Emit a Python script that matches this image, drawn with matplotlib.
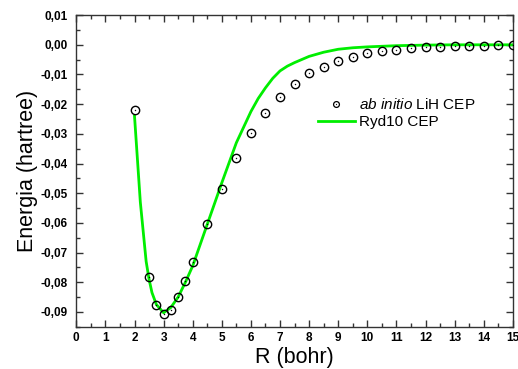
import matplotlib
matplotlib.use("Agg")
import matplotlib.pyplot as plt
from matplotlib.lines import Line2D
from matplotlib.ticker import MultipleLocator, FuncFormatter

plt.rcParams['font.family'] = ['Liberation Sans', 'DejaVu Sans']
plt.rcParams['mathtext.fontset'] = 'custom'
plt.rcParams['mathtext.rm'] = 'Liberation Sans'
plt.rcParams['mathtext.it'] = 'Liberation Sans:italic'

# ab initio LiH CEP points
r_ab = [2.0, 2.5, 2.75, 3.0, 3.25, 3.5, 3.75, 4.0, 4.5, 5.0, 5.5, 6.0, 6.5, 7.0,
        7.5, 8.0, 8.5, 9.0, 9.5, 10.0, 10.5, 11.0, 11.5, 12.0, 12.5, 13.0,
        13.5, 14.0, 14.5, 15.0]
e_ab = [-0.0219, -0.0782, -0.0878, -0.0906, -0.0892, -0.0850, -0.0796, -0.0733,
        -0.0603, -0.0485, -0.0383, -0.0298, -0.0229, -0.0175, -0.0132, -0.0096,
        -0.0074, -0.0054, -0.0040, -0.0029, -0.0021, -0.0016, -0.0012, -0.0009,
        -0.0007, -0.0005, -0.0004, -0.0003, -0.0002, -0.0001]

# Ryd10 CEP curve
r_ryd = [2.0, 2.2, 2.4, 2.5, 2.6, 2.75, 3.0, 3.25, 3.5, 3.75, 4.0, 4.5, 5.0,
         5.5, 6.0, 6.25, 6.5, 6.75, 7.0, 7.25, 7.5, 8.0, 8.5, 9.0, 9.5, 10.0,
         11.0, 12.0, 13.0, 14.0, 15.0]
e_ryd = [-0.0240, -0.0530, -0.0730, -0.0790, -0.0835, -0.0875, -0.0903, -0.0885,
         -0.0850, -0.0800, -0.0745, -0.0605, -0.0465, -0.0330, -0.0225, -0.0181,
         -0.0145, -0.0113, -0.0088, -0.0072, -0.0060, -0.0039, -0.0025, -0.0015,
         -0.0010, -0.0007, -0.0003, -0.0001, 0.0, 0.0, 0.0]

fig = plt.figure(figsize=(5.18, 3.69), dpi=100)
ax = fig.add_axes([0.1473, 0.1146, 0.990 - 0.1473, 0.959 - 0.1146])

ax.plot(r_ryd, e_ryd, color='#00ee00', lw=2.0, zorder=2)
ax.plot(r_ab, e_ab, linestyle='none', marker='o', markersize=6,
        markerfacecolor='none', markeredgecolor='black', markeredgewidth=1.0, zorder=3)
ax.plot(r_ab, e_ab, linestyle='none', marker='o', markersize=0.8,
        markerfacecolor='black', markeredgecolor='black', markeredgewidth=0.2, zorder=4)

ax.set_xlim(0, 15)
ax.set_ylim(-0.095, 0.01)

ax.xaxis.set_major_locator(MultipleLocator(1))
ax.xaxis.set_minor_locator(MultipleLocator(0.5))
ax.yaxis.set_major_locator(MultipleLocator(0.01))
ax.yaxis.set_minor_locator(MultipleLocator(0.005))

ax.xaxis.set_major_formatter(FuncFormatter(lambda v, p: f"{v:.0f}"))
ax.yaxis.set_major_formatter(FuncFormatter(lambda v, p: f"{v:.2f}".replace('.', ',').replace('-0,00', '0,00')))

ax.tick_params(which='both', direction='in', top=True, right=True, color='#333333')
ax.tick_params(which='major', length=5, width=1, labelsize=8.5)
ax.tick_params(which='minor', length=3, width=1)
ax.tick_params(axis='y', which='major', pad=6)
ax.tick_params(axis='x', which='major', pad=4)
for lab in ax.get_xticklabels() + ax.get_yticklabels():
    lab.set_fontweight('bold')
for s in ax.spines.values():
    s.set_color('#333333')
    s.set_linewidth(1.0)

ax.set_xlabel('R (bohr)', fontsize=15.5, labelpad=2)
ax.set_ylabel('Energia (hartree)', fontsize=15.5, labelpad=2)

h_ab = (Line2D([], [], linestyle='none', marker='o', markersize=4.2,
               markerfacecolor='none', markeredgecolor='black', markeredgewidth=0.9),
        Line2D([], [], linestyle='none', marker='o', markersize=0.7,
               markerfacecolor='black', markeredgecolor='black', markeredgewidth=0.2))
h_ryd = Line2D([], [], color='#00ee00', lw=2.0)
leg = ax.legend([h_ab, h_ryd], [r'$\it{ab\ initio}$ LiH CEP', 'Ryd10 CEP'],
                loc='upper left', bbox_to_anchor=(318 / 518, 1 - 97 / 369),
                bbox_transform=fig.transFigure, frameon=False, fontsize=11,
                handlelength=2.4, handletextpad=0.3, labelspacing=0.2,
                borderpad=0, borderaxespad=0)

fig.savefig('out.png', dpi=100)
